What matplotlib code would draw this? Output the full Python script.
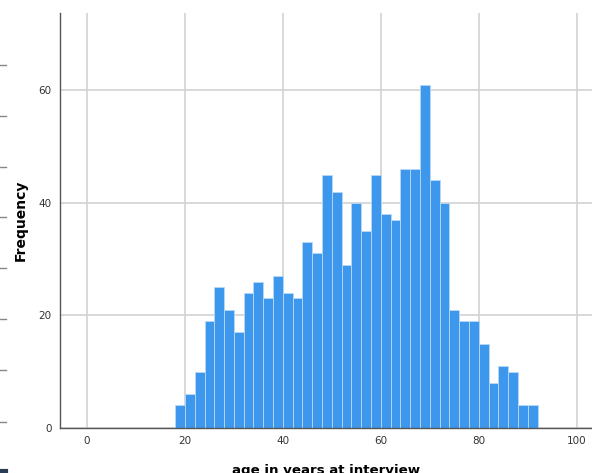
import matplotlib.pyplot as plt
from matplotlib.lines import Line2D

# age bins (left edge, width 2 years) and counts
bin_left = [18, 20, 22, 24, 26, 28, 30, 32, 34, 36, 38, 40, 42, 44, 46, 48, 50, 52, 54,
            56, 58, 60, 62, 64, 66, 68, 70, 72, 74, 76, 78, 80, 82, 84, 86, 88, 90]
counts = [4, 6, 10, 19, 25, 21, 17, 24, 26, 23, 27, 24, 23, 33, 31, 45, 42, 29, 40,
          35, 45, 38, 37, 46, 46, 61, 44, 40, 21, 19, 19, 15, 8, 11, 10, 4, 4]
x_ticks = [0, 20, 40, 60, 80, 100]
y_ticks = [0, 20, 40, 60]

fig = plt.figure(figsize=(5.92, 4.73), dpi=100)
ax = fig.add_axes([60 / 592, 45 / 473, 532 / 592, 415 / 473])

ax.bar(bin_left, counts, width=2, align="edge", color="#3d97ec",
       edgecolor="#b9d9f7", linewidth=0.6, zorder=3)

ax.set_xlim(-5.5, 103.1)
ax.set_ylim(0, 73.7)
ax.set_xticks(x_ticks)
ax.set_yticks(y_ticks)
ax.grid(True, color="#d2d2d2", linewidth=1.2, zorder=0)
ax.tick_params(length=0, labelsize=7.5, labelcolor="#333333", pad=6)

for s in ["top", "right"]:
    ax.spines[s].set_visible(False)
for s in ["left", "bottom"]:
    ax.spines[s].set_color("#555555")
    ax.spines[s].set_linewidth(1.0)
    ax.spines[s].set_zorder(4)

ax.set_ylabel("Frequency", fontsize=10, fontweight="bold", labelpad=8)
ax.set_xlabel("age in years at interview", fontsize=9.6, fontweight="bold", labelpad=13)

# small dashes along the left edge of the screenshot
for yy in [65, 116, 167, 217, 268, 319, 370, 422]:
    fig.add_artist(Line2D([0, 6 / 592], [1 - yy / 473] * 2, color="#888888", linewidth=1))
fig.add_artist(Line2D([0, 6 / 592], [1 - 471 / 473] * 2, color="#2a3d55", linewidth=3))

plt.savefig("out.png", dpi=100)
